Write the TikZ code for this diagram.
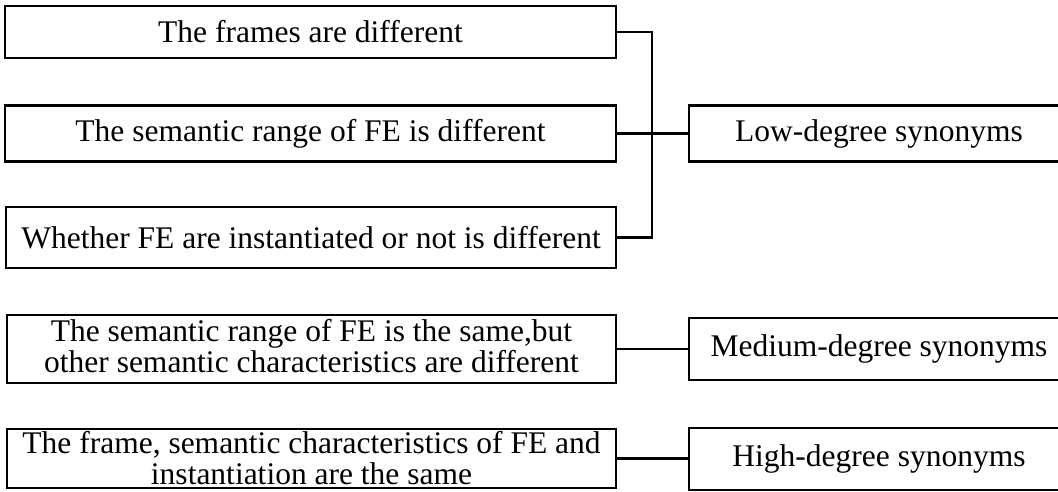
\documentclass[tikz,border=0pt]{standalone}
\usepackage{fontspec}
\setmainfont{Liberation Serif}
\begin{document}
\begin{tikzpicture}[x=1pt,y=-1pt,
  box/.style={draw=black, line width=2.3pt, inner sep=0pt, align=center,
    font=\fontsize{31.5}{31}\selectfont},
  link/.style={draw=black, line width=2.3pt}]
\useasboundingbox (0,0) rectangle (1058,491);
% left column
\node[box, minimum width=611pt, minimum height=52pt] (L1) at (310.5,32) {The frames are different};
\node[box, minimum width=611pt, minimum height=56pt] (L2) at (310.5,133.5) {The semantic range of FE is different};
\node[box, minimum width=610pt, minimum height=61pt] (L3) at (311,237.5) {Whether FE are instantiated or not is different};
\node[box, minimum width=609pt, minimum height=68pt, text depth=6pt] (ML) at (311.5,349) {The semantic range of FE is the same,but\\other semantic characteristics are different};
\node[box, minimum width=609pt, minimum height=59pt] (HL) at (311.5,458.5) {The frame, semantic characteristics of FE and\\instantiation are the same};
% right column
\node[box, minimum width=380pt, minimum height=56pt] (LOW) at (879,133.5) {Low-degree synonyms};
\node[box, minimum width=380pt, minimum height=62pt] (MR) at (879,349) {Medium-degree synonyms};
\node[box, minimum width=380pt, minimum height=62pt] (HR) at (879,459) {High-degree synonyms};
% connectors
\coordinate (J) at (652,133.5);
\draw[link] (L1.east) -| (J);
\draw[link] (L3.east) -| (J);
\draw[link] (L2.east) -- (LOW.west);
\draw[link] (ML.east) -- (MR.west);
\draw[link] (HL.east) -- (HL.east -| HR.west);
\end{tikzpicture}
\end{document}
